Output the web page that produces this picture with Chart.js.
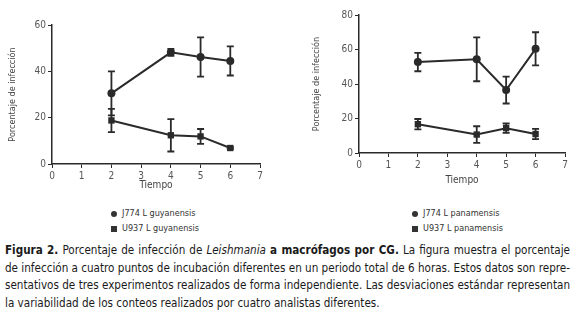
<!DOCTYPE html>
<html>
<head>
<meta charset="utf-8">
<script src="https://cdn.jsdelivr.net/npm/chart.js@4.4.0/dist/chart.umd.min.js"></script>
<style>
body { margin: 0; width: 576px; height: 323px; background: #fff; position: relative; overflow: hidden;
  font-family: 'Liberation Sans Narrow', 'DejaVu Sans Condensed', 'Open Sans', sans-serif; }
.box { position: absolute; top: 0; height: 195px; }
#left { left: 0; width: 290px; }
#right { left: 290px; width: 286px; }
.legend { position: absolute; font-size: 9px; color: #333; }
.legend div { height: 15px; line-height: 15px; white-space: nowrap; }
.legend i { display: inline-block; width: 6px; height: 6px; background: #333; margin-right: 5px; vertical-align: -0.5px; }
.legend i.dot { border-radius: 50%; }
.cap { position: absolute; left: 5px; top: 241px; font-size: 12.5px; line-height: 17.5px; color: #1a1a1a; }
.cap .ln { display: inline-block; white-space: nowrap; transform-origin: 0 0; }
</style>
</head>
<body>
<div class="box" id="left"><canvas id="guyanensis"></canvas></div>
<div class="box" id="right"><canvas id="panamensis"></canvas></div>
<div class="legend" id="legLeft" style="left:111px; top:206px;"></div>
<div class="legend" id="legRight" style="left:412px; top:206px;"></div>
<div class="cap" id="caption">
  <div><span class="ln"><b>Figura 2.</b> Porcentaje de infección de <i>Leishmania</i> <b>a macrófagos por CG.</b> La figura muestra el porcentaje</span></div>
  <div><span class="ln">de infección a cuatro puntos de incubación diferentes en un periodo total de 6 horas. Estos datos son repre-</span></div>
  <div><span class="ln">sentativos de tres experimentos realizados de forma independiente. Las desviaciones estándar representan</span></div>
  <div><span class="ln">la variabilidad de los conteos realizados por cuatro analistas diferentes.</span></div>
</div>
<script>
const times = [2, 4, 5, 6];
const xTicks = [0, 1, 2, 3, 4, 5, 6, 7];

const guyNames = ['J774 L guyanensis', 'U937 L guyanensis'];
const guyJ774 = [30.5, 48.2, 46.2, 44.5];
const guyJ774Err = [9.5, 1.5, 8.5, 6.3];
const guyU937 = [18.8, 12.4, 11.9, 6.9];
const guyU937Err = [5, 7, 3.2, 0.4];

const panNames = ['J774 L panamensis', 'U937 L panamensis'];
const panJ774 = [52.7, 54.3, 36.5, 60.4];
const panJ774Err = [5.3, 12.7, 7.8, 9.6];
const panU937 = [16.7, 10.7, 14.4, 11];
const panU937Err = [3, 4.8, 2.7, 3];

const fontFam = "'Liberation Sans Narrow', 'DejaVu Sans Condensed', 'Open Sans', sans-serif";
const ink = '#2a2a2a';

// draws the standard deviation whiskers
const errorBars = {
    id: 'errorBars',
    afterDatasetsDraw(chart) {
        const ctx = chart.ctx, xs = chart.scales.x, ys = chart.scales.y;
        ctx.save();
        ctx.strokeStyle = ink;
        ctx.lineWidth = 1.8;
        chart.data.datasets.forEach(ds => {
            ds.data.forEach((p, i) => {
                const e = ds.errors[i];
                const x = xs.getPixelForValue(p.x);
                const t = ys.getPixelForValue(p.y + e), b = ys.getPixelForValue(p.y - e);
                ctx.beginPath();
                ctx.moveTo(x, t); ctx.lineTo(x, b);
                ctx.moveTo(x - 3.5, t); ctx.lineTo(x + 3.5, t);
                ctx.moveTo(x - 3.5, b); ctx.lineTo(x + 3.5, b);
                ctx.stroke();
            });
        });
        ctx.restore();
    }
};

function series(vals, errs, style, r) {
    return {
        data: times.map((t, i) => ({ x: t, y: vals[i] })),
        errors: errs,
        borderColor: ink,
        backgroundColor: ink,
        borderWidth: 2,
        pointStyle: style,
        pointRadius: r,
        pointBorderWidth: 0,
        tension: 0
    };
}

function makeChart(id, sets, yMax, box) {
    return new Chart(document.getElementById(id), {
        type: 'line',
        data: { datasets: sets },
        plugins: [errorBars],
        options: {
            responsive: true,
            maintainAspectRatio: false,
            animation: false,
            layout: { padding: { top: box.top, right: box.right, left: 0, bottom: 0 } },
            plugins: { legend: { display: false }, tooltip: { enabled: false } },
            scales: {
                x: {
                    type: 'linear', min: 0, max: 7,
                    afterBuildTicks: s => { s.ticks = xTicks.map(v => ({ value: v })); },
                    afterFit: s => { s.height = box.xh; },
                    grid: { drawOnChartArea: false, drawTicks: true, tickLength: 4, color: ink },
                    border: { color: ink, width: 1.5 },
                    ticks: { color: '#555', padding: 2, font: { family: fontFam, size: 10 } },
                    title: { display: true, text: 'Tiempo', color: '#444', padding: { top: 0, bottom: box.tb },
                        font: { family: fontFam, size: 10 } }
                },
                y: {
                    min: 0, max: yMax,
                    ticks: { stepSize: 20, color: '#555', padding: 2, font: { family: fontFam, size: 10 } },
                    afterFit: s => { s.width = box.yw; },
                    grid: { drawOnChartArea: false, drawTicks: true, tickLength: 4, color: ink },
                    border: { color: ink, width: 1.5 },
                    title: { display: true, text: 'Porcentaje de infección', color: '#444', padding: { top: box.tp, bottom: 0 },
                        font: { family: fontFam, size: 9 } }
                }
            }
        }
    });
}

makeChart('guyanensis', [
    series(guyJ774, guyJ774Err, 'circle', 4),
    series(guyU937, guyU937Err, 'rect', 4.5)
], 60, { top: 25, right: 30, xh: 31, tb: 4, yw: 52, tp: 7 });

makeChart('panamensis', [
    series(panJ774, panJ774Err, 'circle', 4),
    series(panU937, panU937Err, 'rect', 4.5)
], 80, { top: 15, right: 11, xh: 42, tb: 9, yw: 69, tp: 21 });

function legend(el, names) {
    document.getElementById(el).innerHTML =
        '<div><i class="dot"></i>' + names[0] + '</div><div><i></i>' + names[1] + '</div>';
}
legend('legLeft', guyNames);
legend('legRight', panNames);

// fit the caption lines to the column width
const W = 565;
const lines = [...document.querySelectorAll('#caption .ln')];
const nat = lines.map(s => s.getBoundingClientRect().width);
const k = W / Math.max(nat[0], nat[1], nat[2]);
lines.forEach((s, i) => {
    if (i < 3) { s.style.width = (W / k) + 'px'; s.style.textAlignLast = 'justify'; }
    s.style.transform = 'scaleX(' + k + ')';
});
</script>
</body>
</html>
